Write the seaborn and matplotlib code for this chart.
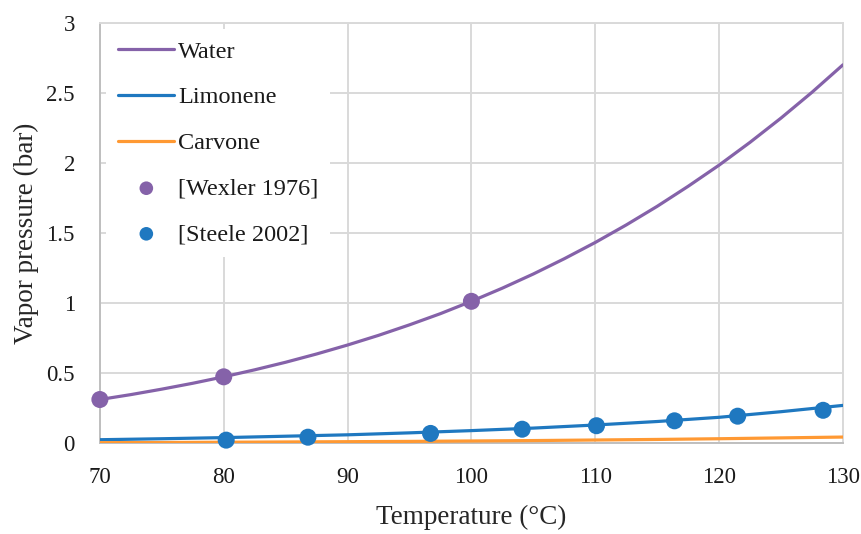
import matplotlib
matplotlib.use("Agg")
import matplotlib.pyplot as plt
import seaborn as sns
import pandas as pd

# Temperature grid (°C) for the model curves
temp_curve = [70, 72.5, 75, 77.5, 80, 82.5, 85, 87.5, 90, 92.5, 95, 97.5, 100,
              102.5, 105, 107.5, 110, 112.5, 115, 117.5, 120, 122.5, 125, 127.5, 130]
water_curve = [0.312, 0.347, 0.386, 0.428, 0.474, 0.524, 0.578, 0.637, 0.701, 0.770,
               0.845, 0.925, 1.013, 1.107, 1.208, 1.317, 1.433, 1.558, 1.691, 1.834,
               1.985, 2.148, 2.321, 2.505, 2.701]

temp_coarse = [70, 75, 80, 85, 90, 95, 100, 105, 110, 115, 120, 125, 130]
limonene_curve = [0.025, 0.032, 0.040, 0.050, 0.060, 0.074, 0.090, 0.108, 0.130,
                  0.155, 0.185, 0.225, 0.270]
carvone_curve = [0.004, 0.005, 0.007, 0.009, 0.011, 0.013, 0.016, 0.019, 0.023,
                 0.027, 0.032, 0.038, 0.044]

# Literature data points
wexler_t = [70, 80, 100]
wexler_p = [0.312, 0.474, 1.013]
steele_t = [80.2, 86.8, 96.7, 104.1, 110.1, 116.4, 121.5, 128.4]
steele_p = [0.022, 0.043, 0.070, 0.100, 0.125, 0.160, 0.193, 0.235]

x_ticks = [70, 80, 90, 100, 110, 120, 130]
y_ticks = [0, 0.5, 1, 1.5, 2, 2.5, 3]
y_ticklabels = ["0", "0.5", "1", "1.5", "2", "2.5", "3"]

PURPLE = "#8562a9"
BLUE = "#1f78c0"
ORANGE = "#ff9933"
GRID = "#d9d9d9"

sns.set_theme(style="whitegrid")
plt.rcParams["font.family"] = ["Liberation Serif", "DejaVu Serif"]
plt.rcParams["text.color"] = "#1a1a1a"

fig = plt.figure(figsize=(8.61, 5.34), dpi=100)
ax = fig.add_axes([0.116, 0.170, 0.863, 0.787])

df_water = pd.DataFrame({"T": temp_curve, "P": water_curve})
df_lim = pd.DataFrame({"T": temp_coarse, "P": limonene_curve})
df_carv = pd.DataFrame({"T": temp_coarse, "P": carvone_curve})

sns.lineplot(data=df_water, x="T", y="P", ax=ax, color=PURPLE, lw=2.3, label="Water", zorder=3)
sns.lineplot(data=df_lim, x="T", y="P", ax=ax, color=BLUE, lw=2.3, label="Limonene", zorder=3)
sns.lineplot(data=df_carv, x="T", y="P", ax=ax, color=ORANGE, lw=2.3, label="Carvone", zorder=3)
sns.scatterplot(x=wexler_t, y=wexler_p, ax=ax, color=PURPLE, s=150, edgecolor="none",
                label="[Wexler 1976]", zorder=4, clip_on=False)
sns.scatterplot(x=steele_t, y=steele_p, ax=ax, color=BLUE, s=150, edgecolor="none",
                label="[Steele 2002]", zorder=4, clip_on=False)

ax.set_xlim(70, 130)
ax.set_ylim(0, 3)
ax.set_xticks(x_ticks)
ax.set_yticks(y_ticks)
ax.set_yticklabels(y_ticklabels)
ax.tick_params(axis="both", labelsize=16.5, length=0, colors="#1a1a1a")
ax.tick_params(axis="x", pad=17)
ax.tick_params(axis="y", pad=18)

ax.set_xlabel("Temperature (°C)", fontsize=19.5, labelpad=12)
ax.set_ylabel("Vapor pressure (bar)", fontsize=19.5, labelpad=5)

ax.grid(True, color=GRID, lw=1.4)
for side, sp in ax.spines.items():
    sp.set_visible(True)
    sp.set_color(GRID)
    sp.set_linewidth(1.4)
ax.spines["bottom"].set_color("#bfbfbf")
ax.spines["left"].set_color("#bfbfbf")

leg = ax.legend(loc="upper left", bbox_to_anchor=(0.002, 0.998), fontsize=17.5,
                frameon=True, facecolor="white", framealpha=1, edgecolor="white",
                handlelength=2.3, handletextpad=0.15, labelspacing=0.97,
                borderpad=0.5, borderaxespad=0.2, markerscale=0.8)
leg.get_frame().set_linewidth(0)
leg.set_zorder(5)

fig.savefig("out.png", dpi=100, facecolor="white")
